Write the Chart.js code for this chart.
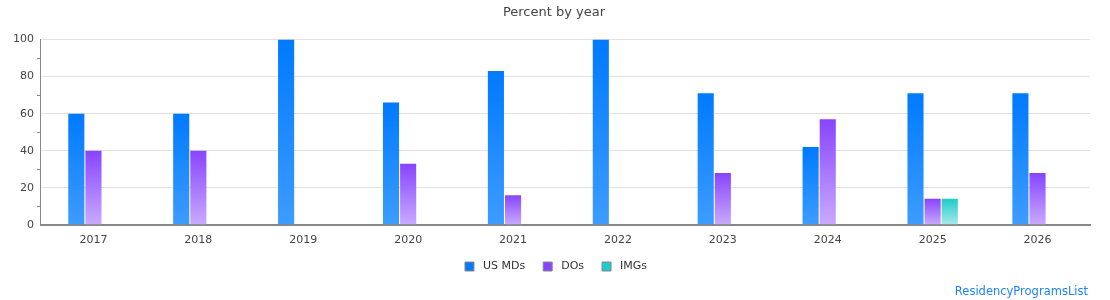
<!DOCTYPE html>
<html>
<head>
<meta charset="utf-8">
<script src="https://cdn.jsdelivr.net/npm/chart.js@4.4.1/dist/chart.umd.min.js"></script>
<style>
    html, body { margin: 0; padding: 0; background: #fff; }
    #wrap { position: relative; width: 1110px; height: 300px; }
    #credit {
        position: absolute; right: 22px; bottom: 2px;
        font-family: 'DejaVu Sans', sans-serif; font-size: 11.5px; color: #1a82ff;
    }
</style>
</head>
<body>
<div id="wrap">
    <canvas id="chart" width="1110" height="300"></canvas>
    <div id="credit">ResidencyProgramsList</div>
</div>
<script>
// данные с картинки (проценты по годам)
const years = ['2017', '2018', '2019', '2020', '2021', '2022', '2023', '2024', '2025', '2026'];
const usMDs = [60, 60, 100, 66, 83, 100, 71, 42, 71, 71];
const DOs = [40, 40, null, 33, 16, null, 28, 57, 14, 28];
const IMGs = [null, null, null, null, null, null, null, null, 14, null];

// цвета градиента: верх -> низ столбика
const gradUS = ['#007aff', '#3d9cff'];
const gradDO = ['#8844ff', '#c9aaff'];
const gradIMG = ['#1ecccc', '#a9e9e9'];

function barGradient(colors) {
    return function(ctx) {
        const chart = ctx.chart;
        if (!chart.chartArea || ctx.raw == null) return colors[0];
        const y = chart.scales.y;
        const top = y.getPixelForValue(ctx.raw);
        const base = y.getPixelForValue(0);
        if (!isFinite(top) || top === base) return colors[0];
        const g = chart.ctx.createLinearGradient(0, top, 0, base);
        g.addColorStop(0, colors[0]);
        g.addColorStop(1, colors[1]);
        return g;
    };
}

// легенда и заголовок центрируются по всему холсту, а не по области с отступами
const centerShift = {
    id: 'centerShift',
    afterLayout(chart) {
        if (chart.legend) chart.legend.left += 12;
        if (chart.titleBlock) chart.titleBlock.left += 8;
    }
};

const font = { family: "'DejaVu Sans', sans-serif", size: 11 };

new Chart(document.getElementById('chart').getContext('2d'), {
    type: 'bar',
    data: {
        labels: years,
        datasets: [
            { label: 'US MDs', data: usMDs, backgroundColor: barGradient(gradUS), legendColor: gradUS[0] },
            { label: 'DOs', data: DOs, backgroundColor: barGradient(gradDO), legendColor: gradDO[0] },
            { label: 'IMGs', data: IMGs, backgroundColor: barGradient(gradIMG), legendColor: gradIMG[0] }
        ]
    },
    plugins: [centerShift],
    options: {
        responsive: false,
        animation: false,
        layout: { padding: { left: 10, right: 20, top: 0, bottom: 18 } },
        datasets: { bar: { categoryPercentage: 0.49, barPercentage: 0.94 } },
        plugins: {
            title: {
                display: true, text: 'Percent by year', color: '#444',
                font: { family: "'DejaVu Sans', sans-serif", size: 13, weight: 'normal' },
                padding: { top: 5, bottom: 19 }
            },
            legend: {
                position: 'bottom',
                labels: {
                    color: '#333', font: font, boxWidth: 9, boxHeight: 9, padding: 18,
                    // пробел впереди — чуть больше отступ от квадратика
                    generateLabels: chart => chart.data.datasets.map((ds, i) => ({
                        text: ' ' + ds.label, fillStyle: ds.legendColor, strokeStyle: '#888',
                        lineWidth: 1, datasetIndex: i, fontColor: '#333'
                    }))
                }
            },
            tooltip: { enabled: false }
        },
        scales: {
            x: {
                grid: { display: false, drawTicks: false },
                border: { color: '#888', width: 2 },
                ticks: { color: '#444', font: font, padding: 9 },
                afterFit: s => { s.height -= 13; }
            },
            y: {
                min: 0, max: 100,
                border: { color: '#888', width: 1 },
                grid: {
                    color: c => c.tick && c.tick.value % 20 === 0 ? '#e2e2e2' : 'rgba(0,0,0,0)',
                    tickColor: c => c.tick && c.tick.value % 20 !== 0 ? '#888' : 'rgba(0,0,0,0)',
                    tickLength: 4
                },
                ticks: {
                    stepSize: 10, color: '#444', font: font, padding: 3,
                    callback: v => v % 20 === 0 ? v : ''
                }
            }
        }
    }
});
</script>
</body>
</html>
